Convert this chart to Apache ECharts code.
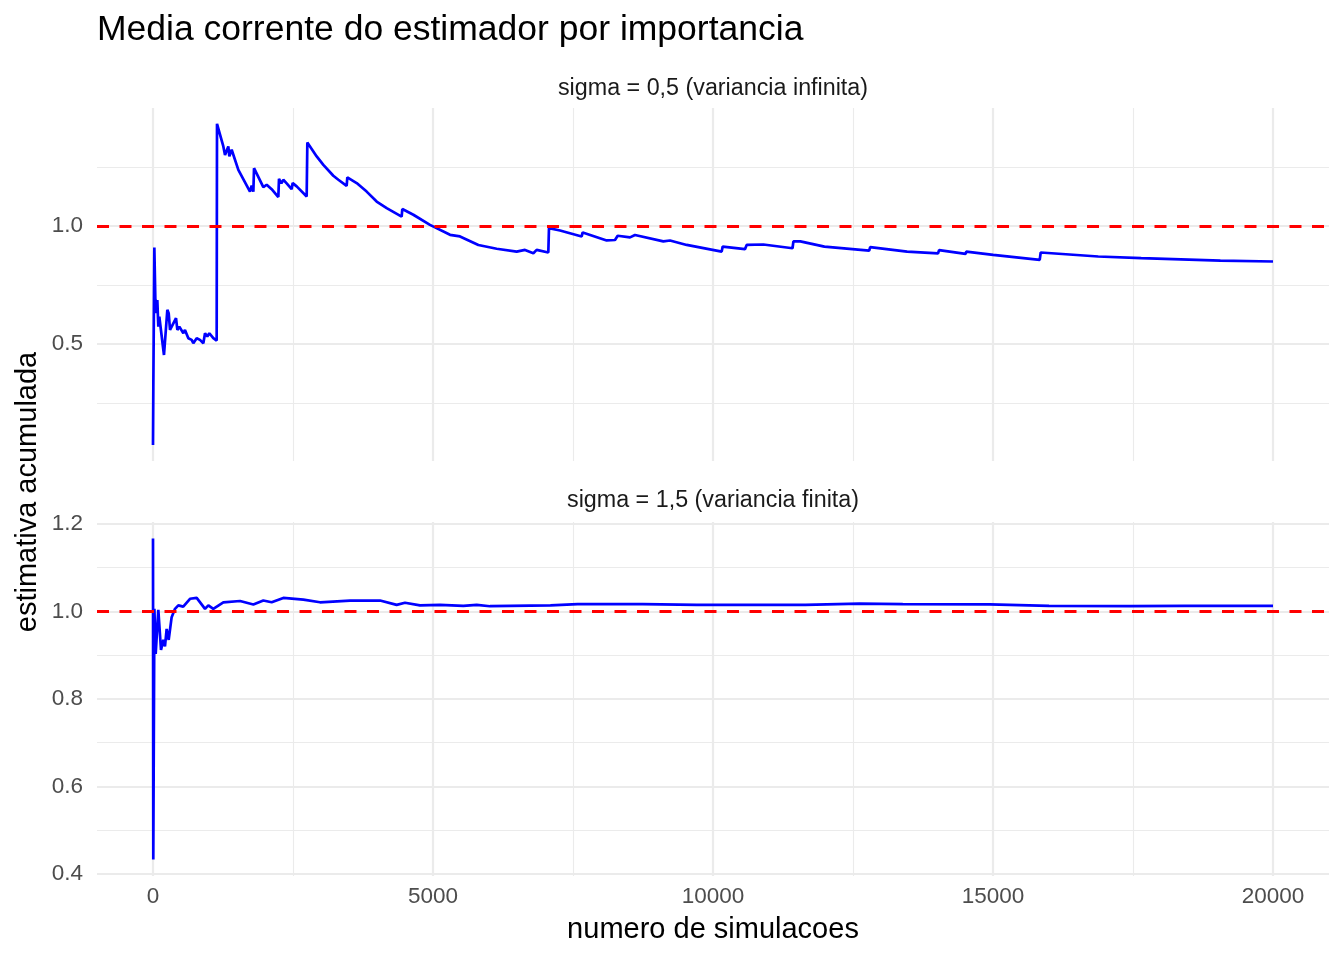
<!DOCTYPE html>
<html>
<head>
<meta charset="utf-8">
<script src="https://cdn.jsdelivr.net/npm/echarts@6/dist/echarts.min.js"></script>
<style>
html,body{margin:0;padding:0;background:#fff;}
#chart{width:1344px;height:960px;}
</style>
</head>
<body>
<div id="chart"></div>
<script>
// ---- data ----
const titleText = 'Media corrente do estimador por importancia';
const stripTop = 'sigma = 0,5 (variancia infinita)';
const stripBottom = 'sigma = 1,5 (variancia finita)';
const xName = 'numero de simulacoes';
const yName = 'estimativa acumulada';

const xTop = [0,6,24,42,65,77,95,113,196,256,280,304,411,435,470,542,571,631,690,720,780,839,899,929,970,1006,1077,1137,
  1143,1256,1286,1345,1363,1405,1524,1732,1762,1792,1804,1970,2030,2119,2238,2250,2292,2327,2387,2476,2494,2566,2744,
  2756,2923,3042,3220,3250,3310,3458,3470,3637,3815,3994,4173,4440,4452,4649,4946,5304,5482,5810,6137,6494,6643,6792,
  6851,7059,7071,7268,7655,7673,8101,8250,8298,8518,8607,9113,9232,9530,10155,10173,10571,10601,10899,11420,11436,
  11559,11990,12789,12807,13466,14019,14037,14511,14523,15003,15834,15852,16879,16897,17646,19061,20000];
const yTop = [0.072,0.319,0.908,0.686,0.630,0.686,0.573,0.615,0.453,0.644,0.630,0.559,0.609,0.559,0.573,0.545,0.559,0.524,0.517,0.503,0.524,0.517,0.503,0.545,0.531,0.545,0.524,0.514,
  1.432,1.336,1.300,1.336,1.294,1.322,1.237,1.145,1.170,1.145,1.244,1.164,1.174,1.155,1.122,1.199,1.180,1.195,1.180,1.155,1.181,1.167,1.124,
  1.353,1.294,1.258,1.212,1.215,1.195,1.169,1.205,1.181,1.145,1.103,1.075,1.039,1.071,1.047,1.004,0.962,0.955,0.919,0.903,0.891,0.898,0.884,
  0.898,0.887,0.990,0.980,0.955,0.972,0.938,0.940,0.958,0.951,0.961,0.934,0.938,0.919,0.891,0.912,0.901,0.919,0.921,0.905,0.934,
  0.934,0.912,0.895,0.910,0.891,0.883,0.897,0.881,0.891,0.877,0.856,0.887,0.870,0.877,0.863,0.853,0.849];

const xBottom = [0,5,25,48,95,143,185,214,244,280,333,393,452,540,661,780,929,988,1077,1256,1554,1792,1970,2119,2327,2685,
  2982,3518,4054,4351,4500,4768,5125,5541,5780,6018,7098,7582,8743,9711,11647,12614,13389,14937,16000,17450,18418,20000];
const yBottom = [1.167,0.433,1.006,0.903,1.004,0.912,0.935,0.920,0.960,0.935,0.987,1.006,1.014,1.011,1.029,1.031,1.006,1.014,1.006,1.021,1.024,1.016,1.025,1.021,1.031,1.027,
  1.021,1.025,1.025,1.015,1.020,1.014,1.015,1.013,1.015,1.012,1.014,1.017,1.017,1.015,1.015,1.018,1.017,1.016,1.013,1.012,1.013,1.013];

const refValue = 1;
const xTicks = [0, 5000, 10000, 15000, 20000];

// ---- chart ----
const FONT = '"Liberation Sans", Arial, Helvetica, sans-serif';
const GRID = '#EBEBEB';
const pairs = (xs, ys) => xs.map((x, i) => [x, ys[i]]);

function xAxisCfg(gridIndex, showLabels) {
  return {
    type: 'value', gridIndex, min: -1000, max: 21000,
    splitNumber: 5, minInterval: 5000, maxInterval: 5000,
    axisLine: {show: false}, axisTick: {show: false},
    axisLabel: {show: showLabels, showMinLabel: false, showMaxLabel: false, margin: 9,
      color: '#4D4D4D', fontSize: 22.5, fontFamily: FONT,
      formatter: v => xTicks.includes(v) ? String(v) : ''},
    splitLine: {show: true, showMinLine: false, showMaxLine: false, lineStyle: {color: GRID, width: 2.2}},
    minorTick: {show: false, splitNumber: 2},
    minorSplitLine: {show: true, lineStyle: {color: GRID, width: 1.1}}
  };
}
function yAxisCfg(gridIndex, min, max, step) {
  return {
    type: 'value', gridIndex, min, max,
    minInterval: step, maxInterval: step,
    axisLine: {show: false}, axisTick: {show: false},
    axisLabel: {showMinLabel: false, showMaxLabel: false, margin: 14, padding: [4, 0, 0, 0],
      color: '#4D4D4D', fontSize: 22.5, fontFamily: FONT,
      formatter: v => v.toFixed(1)},
    splitLine: {show: true, showMinLine: false, showMaxLine: false, lineStyle: {color: GRID, width: 2.2}},
    minorTick: {show: false, splitNumber: 2},
    minorSplitLine: {show: true, lineStyle: {color: GRID, width: 1.1}}
  };
}
const refLine = {
  silent: true, symbol: 'none', label: {show: false},
  lineStyle: {color: '#FF0000', type: [12, 10.5], width: 3},
  emphasis: {disabled: true},
  data: [{yAxis: refValue}]
};

const chart = echarts.init(document.getElementById('chart'), null, {renderer: 'canvas'});
chart.setOption({
  animation: false,
  backgroundColor: '#fff',
  grid: [
    {left: 97, right: 15, top: 108, height: 353},
    {left: 97, right: 15, top: 522, height: 354}
  ],
  xAxis: [xAxisCfg(0, false), xAxisCfg(1, true)],
  yAxis: [yAxisCfg(0, 0.004, 1.499, 0.5), yAxisCfg(1, 0.3954, 1.2045, 0.2)],
  series: [
    {type: 'line', xAxisIndex: 0, yAxisIndex: 0, data: pairs(xTop, yTop), showSymbol: false,
     lineStyle: {color: '#0000FF', width: 2.7}, itemStyle: {color: '#0000FF'}, markLine: refLine},
    {type: 'line', xAxisIndex: 1, yAxisIndex: 1, data: pairs(xBottom, yBottom), showSymbol: false,
     lineStyle: {color: '#0000FF', width: 2.7}, itemStyle: {color: '#0000FF'}, markLine: refLine}
  ],
  graphic: [
    {type: 'text', x: 97, y: 30, style: {text: titleText, fill: '#000', fontSize: 35.5, fontFamily: FONT, align: 'left', verticalAlign: 'middle'}},
    {type: 'text', x: 713, y: 89, style: {text: stripTop, fill: '#1A1A1A', fontSize: 23.3, fontFamily: FONT, align: 'center', verticalAlign: 'middle'}},
    {type: 'text', x: 713, y: 501, style: {text: stripBottom, fill: '#1A1A1A', fontSize: 23.3, fontFamily: FONT, align: 'center', verticalAlign: 'middle'}},
    {type: 'text', x: 713, y: 930, style: {text: xName, fill: '#000', fontSize: 29, fontFamily: FONT, align: 'center', verticalAlign: 'middle'}},
    {type: 'text', x: 28, y: 492, rotation: Math.PI / 2, style: {text: yName, fill: '#000', fontSize: 29, fontFamily: FONT, align: 'center', verticalAlign: 'middle'}}
  ]
});
</script>
</body>
</html>
